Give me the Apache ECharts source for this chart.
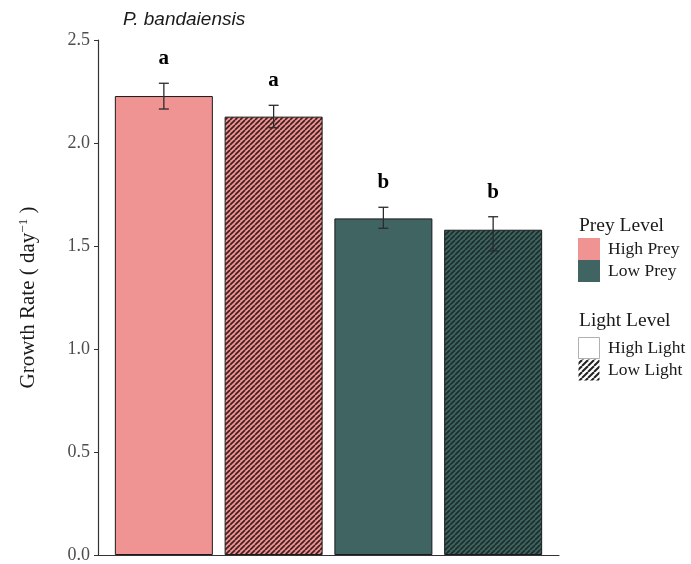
<!DOCTYPE html>
<html>
<head>
<meta charset="utf-8">
<script src="https://cdn.jsdelivr.net/npm/echarts@6/dist/echarts.min.js"></script>
<style>
html,body{margin:0;padding:0;background:#fff;}
#chart{width:691px;height:564px;}
</style>
</head>
<body>
<div id="chart"></div>
<script>
// ---- data ----
const categories = ['High Prey / High Light', 'High Prey / Low Light', 'Low Prey / High Light', 'Low Prey / Low Light'];
const preyLevel = ['High Prey', 'High Prey', 'Low Prey', 'Low Prey'];
const lightLevel = ['High Light', 'Low Light', 'High Light', 'Low Light'];
const growthRate = [2.228, 2.128, 1.634, 1.579];
const errLow = [2.165, 2.074, 1.586, 1.476];
const errHigh = [2.290, 2.183, 1.688, 1.642];
const sigLetters = ['a', 'a', 'b', 'b'];
const yTickMin = 0, yTickMax = 2.5, yTickStep = 0.5;
const preyLegend = ['High Prey', 'Low Prey'];
const lightLegend = ['High Light', 'Low Light'];
const titleText = 'P. bandaiensis';

// ---- styling ----
const preyColors = { 'High Prey': '#F09393', 'Low Prey': '#3F6461' };
const stripeColors = { 'High Prey': '#3e1f1f', 'Low Prey': '#1c2e2c' };

function makeStripes(bg, fg, size, lw) {
  const c = document.createElement('canvas');
  c.width = size; c.height = size;
  const g = c.getContext('2d');
  if (bg) { g.fillStyle = bg; g.fillRect(0, 0, size, size); }
  g.strokeStyle = fg; g.lineWidth = lw;
  for (let k = -1; k <= 1; k++) {
    g.beginPath();
    g.moveTo(k * size, size);
    g.lineTo(k * size + size, 0);
    g.stroke();
  }
  return { image: c, repeat: 'repeat' };
}

function fillFor(i) {
  const p = preyLevel[i];
  if (lightLevel[i] === 'Low Light') return makeStripes(preyColors[p], stripeColors[p], 5, 1.7);
  return preyColors[p];
}

const serif = '"Liberation Serif", "Times New Roman", serif';
const chart = echarts.init(document.getElementById('chart'), null, { renderer: 'canvas' });

const legendX = 578, keyW = 22, keyH = 22;
const graphics = [];
graphics.push({ type: 'text', left: 123, top: 10, style: { text: titleText, font: 'italic 19px "Liberation Sans", Arial, sans-serif', fill: '#1a1a1a' } });
graphics.push({ type: 'text', x: legendX + 1, y: 226, style: { text: 'Prey Level', font: '19.5px ' + serif, fill: '#1a1a1a', verticalAlign: 'middle' } });
preyLegend.forEach((name, k) => {
  const y0 = 238 + k * keyH;
  graphics.push({ type: 'rect', shape: { x: legendX, y: y0, width: keyW, height: keyH }, style: { fill: preyColors[name], stroke: null } });
  graphics.push({ type: 'text', x: legendX + keyW + 8, y: y0 + keyH / 2 + 0.5, style: { text: name, font: '17.5px ' + serif, fill: '#1a1a1a', verticalAlign: 'middle' } });
});
graphics.push({ type: 'text', x: legendX + 1, y: 321, style: { text: 'Light Level', font: '19.5px ' + serif, fill: '#1a1a1a', verticalAlign: 'middle' } });
lightLegend.forEach((name, k) => {
  const y0 = 337 + k * keyH;
  const fill = name === 'Low Light' ? makeStripes('#ffffff', '#222222', 6, 2) : '#ffffff';
  graphics.push({ type: 'rect', shape: { x: legendX + 0.5, y: y0 + 0.5, width: keyW - 1, height: keyH - 1 }, style: { fill: fill, stroke: name === 'High Light' ? '#b0b0b0' : null, lineWidth: 1 } });
  graphics.push({ type: 'text', x: legendX + keyW + 8, y: y0 + keyH / 2 + 0.5, style: { text: name, font: '17.5px ' + serif, fill: '#1a1a1a', verticalAlign: 'middle' } });
});

const option = {
  animation: false,
  backgroundColor: '#ffffff',
  grid: { left: 98, right: 132, top: 40, bottom: 9, containLabel: false },
  xAxis: {
    type: 'value', min: 0.4, max: 4.6,
    axisLine: { show: true, lineStyle: { color: '#333333', width: 1.2 } },
    axisTick: { show: false }, axisLabel: { show: false }, splitLine: { show: false }
  },
  yAxis: {
    type: 'value', min: yTickMin, max: yTickMax, interval: yTickStep,
    name: 'Growth Rate ( day{sup|−1} )',
    nameLocation: 'middle', nameGap: 58, nameRotate: 90,
    nameTextStyle: {
      fontFamily: serif, fontSize: 21, color: '#1a1a1a',
      rich: { sup: { fontFamily: serif, fontSize: 13, color: '#1a1a1a', verticalAlign: 'top', padding: [0, 0, 10, 0] } }
    },
    axisLine: { show: true, lineStyle: { color: '#333333', width: 1.2 } },
    axisTick: { show: true, length: 4, lineStyle: { color: '#333333' } },
    axisLabel: { fontFamily: serif, fontSize: 18, color: '#4D4D4D', margin: 8, formatter: v => v.toFixed(1) },
    splitLine: { show: false }
  },
  graphic: graphics,
  series: [
    {
      type: 'bar',
      barWidth: 98,
      data: growthRate.map((v, i) => ({
        value: [i + 1, v],
        name: categories[i],
        itemStyle: { color: fillFor(i), borderColor: '#1a1a1a', borderWidth: 1 }
      }))
    },
    {
      type: 'custom',
      z: 5,
      data: growthRate.map((v, i) => [i + 1, errLow[i], errHigh[i]]),
      renderItem: function (params, api) {
        const x = api.value(0);
        const lo = api.coord([x, api.value(1)]);
        const hi = api.coord([x, api.value(2)]);
        const cw = 5;
        const ls = { stroke: '#2b2b2b', lineWidth: 1.3 };
        return {
          type: 'group',
          children: [
            { type: 'line', shape: { x1: hi[0], y1: hi[1], x2: lo[0], y2: lo[1] }, style: ls },
            { type: 'line', shape: { x1: hi[0] - cw, y1: hi[1], x2: hi[0] + cw, y2: hi[1] }, style: ls },
            { type: 'line', shape: { x1: lo[0] - cw, y1: lo[1], x2: lo[0] + cw, y2: lo[1] }, style: ls },
            { type: 'text', x: hi[0], y: hi[1] - 14, style: { text: sigLetters[params.dataIndex], font: 'bold 21px ' + serif, fill: '#000', align: 'center', verticalAlign: 'bottom' } }
          ]
        };
      }
    }
  ]
};
chart.setOption(option);
</script>
</body>
</html>
